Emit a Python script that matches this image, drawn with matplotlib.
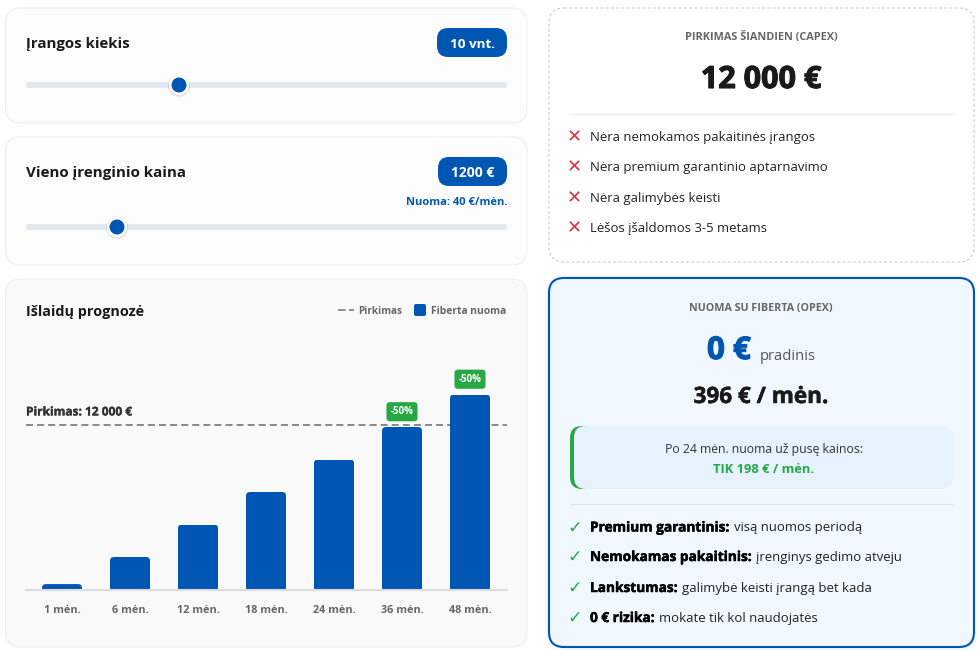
from matplotlib import pyplot as plt
from matplotlib import patheffects as pe
from matplotlib.patches import FancyBboxPatch, Circle
from matplotlib.transforms import IdentityTransform

plt.rcParams['font.family'] = ['Open Sans', 'DejaVu Sans']

months = ['1 mėn.', '6 mėn.', '12 mėn.', '18 mėn.', '24 mėn.', '36 mėn.', '48 mėn.']
rent_cost = [396, 2376, 4752, 7128, 9504, 11880, 14256]
purchase_cost = 12000
discount_flags = ['', '', '', '', '', '-50%', '-50%']

capex_rows = ['Nėra nemokamos pakaitinės įrangos', 'Nėra premium garantinio aptarnavimo',
              'Nėra galimybės keisti', 'Lėšos įšaldomos 3-5 metams']
opex_bold = ['Premium garantinis:', 'Nemokamas pakaitinis:', 'Lankstumas:', '0 € rizika:']
opex_rest = ['visą nuomos periodą', 'įrenginys gedimo atveju',
             'galimybė keisti įrangą bet kada', 'mokate tik kol naudojatės']

BLUE = '#0056b3'
GREEN = '#28a745'
DARK = '#1a1a1a'
GREY = '#666666'
W, H = 977, 651

fig = plt.figure(figsize=(W / 100, H / 100), dpi=100, facecolor='white')
bg = fig.add_axes([0, 0, 1, 1])
bg.set_xlim(0, W)
bg.set_ylim(H, 0)
bg.axis('off')


def box(x0, y0, x1, y1, r, fc, ec='none', lw=1.0, ls='-', z=1):
    p = FancyBboxPatch((x0 + r, y0 + r), x1 - x0 - 2 * r, y1 - y0 - 2 * r,
                       boxstyle='round,pad=%f,rounding_size=%f' % (r, r),
                       fc=fc, ec=ec, lw=lw, ls=ls, zorder=z)
    bg.add_patch(p)
    return p


def label(x, y, s, size, color=DARK, weight='normal', ha='left', heavy=0):
    t = bg.text(x, y, s, fontsize=size, color=color, weight=weight, ha=ha, va='baseline', zorder=5)
    if heavy:
        # open sans here stops at bold, thicken it a bit
        t.set_path_effects([pe.withStroke(linewidth=heavy, foreground=color)])
    return t


def slider(y, thumb_x):
    box(26, y - 3, 507, y + 3, 3, '#e2e8f0', z=2)
    bg.add_patch(Circle((thumb_x, y + 0.7), 11, fc='#0000001a', ec='none', zorder=2))
    bg.add_patch(Circle((thumb_x, y), 10, fc='white', ec='none', zorder=3))
    bg.add_patch(Circle((thumb_x, y), 7.5, fc=BLUE, ec='none', zorder=4))


# left cards
box(5.5, 8, 527, 123, 15, '#fcfcfc', ec='#eeeeee', lw=0.75)
box(5.5, 137, 527, 265, 15, '#fcfcfc', ec='#eeeeee', lw=0.75)
box(5.5, 279, 527, 647, 15, '#f9f9f9', ec='#eeeeee', lw=0.75)

label(26, 48, 'Įrangos kiekis', 10.8, weight='bold')
box(437, 28, 507, 57, 11, BLUE, z=2)
label(472, 48, '10 vnt.', 9.7, color='white', weight='bold', ha='center')
slider(85, 179)

label(26, 177, 'Vieno įrenginio kaina', 10.9, weight='bold')
box(438, 157, 507, 186, 11, BLUE, z=2)
label(472.5, 177, '1200 €', 10, color='white', weight='bold', ha='center')
label(507, 205, 'Nuoma: 40 €/mėn.', 8, color=BLUE, weight='bold', ha='right')
slider(227, 117)

# chart header + legend
label(26, 316, 'Išlaidų prognozė', 10.4, weight='bold')
bg.plot([338, 354], [310, 310], color='#888888', lw=1.3, ls=(0, (4.2, 1.9)), zorder=5)
label(358, 314, 'Pirkimas', 7.2, color=GREY, weight='bold')
box(414, 304, 426, 316, 2, BLUE, z=5)
label(431, 314, 'Fiberta nuoma', 7.4, color=GREY, weight='bold')

# chart
y_top = 18000
px_per_unit = 195 / 14256
ax_h = y_top * px_per_unit
ax = fig.add_axes([26 / W, (H - 589.5) / H, (507 - 26) / W, ax_h / H])
ax.patch.set_alpha(0)
ax.set_xlim(-36 / 68, 6 + 37 / 68)
ax.set_ylim(0, y_top)
ax.axhline(purchase_cost, color='#888888', lw=1.4, ls=(0, (3.6, 2.1)), zorder=1)
bars = ax.bar(range(len(months)), rent_cost, width=40 / 68, color=BLUE, zorder=2)

fig.canvas.draw()
for b in bars:
    (x0, y0), (x1, y1) = ax.transData.transform([(b.get_x(), 0), (b.get_x() + b.get_width(), b.get_height())])
    clip = FancyBboxPatch((x0 + 4, y0 - 10), x1 - x0 - 8, y1 - y0 + 6,
                          boxstyle='round,pad=4,rounding_size=4', transform=IdentityTransform())
    b.set_clip_path(clip)

for i, flag in enumerate(discount_flags):
    if flag:
        ax.annotate(flag, (i, rent_cost[i]), xytext=(0, 11), textcoords='offset points',
                    ha='center', va='center', fontsize=7, color='white', weight='bold',
                    bbox=dict(boxstyle='round,pad=0.42,rounding_size=0.35', fc=GREEN, ec='none'), zorder=4)

ax.annotate('Pirkimas: 12 000 €', (-36 / 68, purchase_cost), xytext=(0, 5), textcoords='offset points',
            ha='left', va='bottom', fontsize=8.6, color='#333333', weight='bold',
            path_effects=[pe.withStroke(linewidth=0.25, foreground='#333333')])

ax.set_xticks(range(len(months)))
ax.set_xticklabels(months, fontsize=7.8, color=GREY, weight='bold')
ax.tick_params(axis='x', length=0, pad=11)
ax.set_yticks([])
for s in ['top', 'left', 'right']:
    ax.spines[s].set_visible(False)
ax.spines['bottom'].set_color('#dddddd')
ax.spines['bottom'].set_linewidth(1.5)

# capex card
box(549, 8, 974, 262, 15, 'white', ec='#cccccc', lw=0.75, ls=(0, (3, 2)))
label(761, 40, 'PIRKIMAS ŠIANDIEN (CAPEX)', 7.85, color=GREY, weight='bold', ha='center')
label(761, 88, '12 000 €', 22, weight='bold', ha='center', heavy=0.8)
bg.plot([569, 954], [114, 114], color='#eeeeee', lw=1, zorder=2)
for y, s in zip([141, 171, 202, 232], capex_rows):
    bg.text(574, y + 1.5, '✕', fontsize=13, color='#dc3545', ha='center', va='baseline', family='DejaVu Sans', zorder=5)
    label(590, y, s, 9.47, color='#222222')

# opex card, faint glow around it
box(545, 274, 978, 651, 19, '#0056b306', z=0)
box(547, 276, 976, 649, 17, '#0056b306', z=0)
box(549, 278, 974, 647, 15, '#f0f7ff', ec=BLUE, lw=1.5)
label(761, 311, 'NUOMA SU FIBERTA (OPEX)', 7.75, color=GREY, weight='bold', ha='center')
label(707, 359, '0 €', 22.5, color=BLUE, weight='bold', heavy=0.8)
label(760, 360, 'pradinis', 10.6, color='#555555')
label(761, 403, '396 € / mėn.', 16.2, weight='bold', ha='center', heavy=0.35)

box(570, 426, 610, 489, 12, GREEN, z=2)
box(574, 426, 953, 489, 12, '#e6f3ff', z=3)
label(764, 453.5, 'Po 24 mėn. nuoma už pusę kainos:', 8.8, color='#333333', ha='center')
label(764, 473, 'TIK 198 € / mėn.', 9.3, color=GREEN, weight='bold', ha='center')
bg.plot([570, 953], [504, 504], color='#dde6f0', lw=1, zorder=2)

renderer = fig.canvas.get_renderer()
for y, head, tail in zip([531.5, 561, 592, 622], opex_bold, opex_rest):
    bg.text(575, y + 1, '✓', fontsize=12.5, color=GREEN, ha='center', va='baseline', family='DejaVu Sans', zorder=5)
    t = label(590, y, head, 9.85, color='black', weight='bold', heavy=0.35)
    end = t.get_window_extent(renderer).x1
    label(end + 4, y, tail, 9.47, color='#222222')

fig.savefig('out.png', dpi=100, facecolor='white')
